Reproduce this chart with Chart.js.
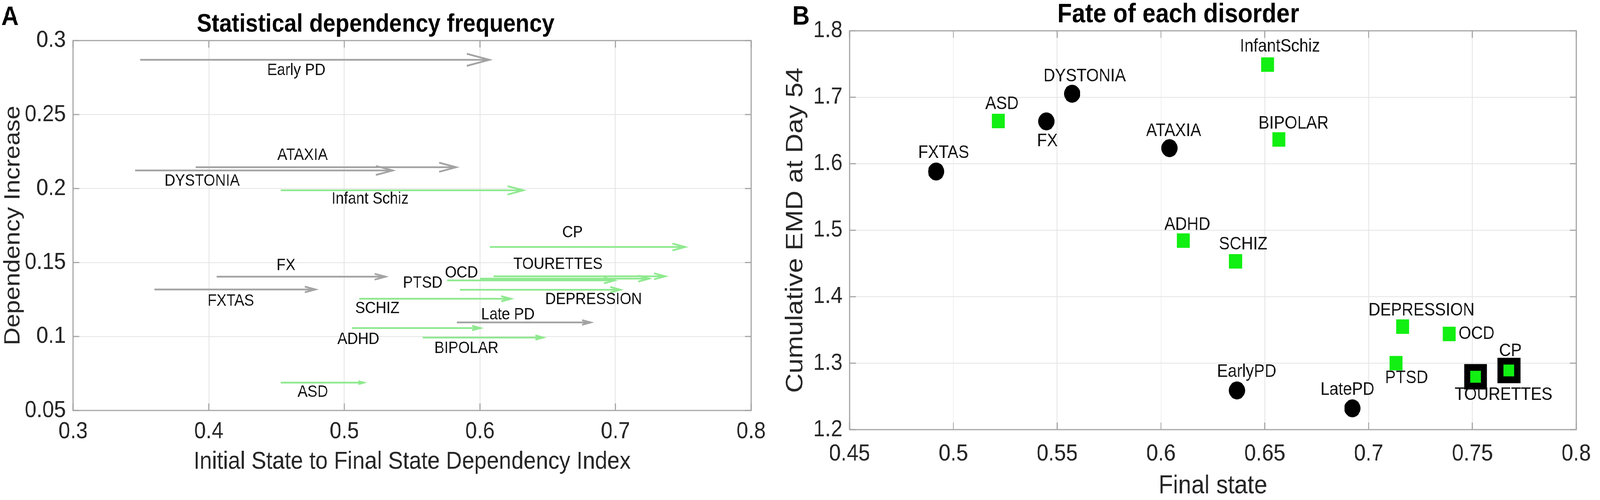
<!DOCTYPE html>
<html><head><meta charset="utf-8">
<script src="https://cdn.jsdelivr.net/npm/chart.js@4.4.1/dist/chart.umd.min.js"></script>
<style>
html,body{margin:0;padding:0;background:#fff;overflow:hidden}
#page{position:absolute;left:0;top:0;width:4550px;height:1279px;transform-origin:0 0;background:#fff}
#wa{position:absolute;left:0;top:0;width:2250px;height:1279px}
#wb{position:absolute;left:2200px;top:0;width:2350px;height:1279px}
canvas{display:block}
</style></head><body>
<div id="page">
<div id="wa"><canvas id="ca" width="2250" height="1279"></canvas></div>
<div id="wb"><canvas id="cb" width="2350" height="1279"></canvas></div>
</div>
<script>
// fit the 4550px-wide figure into the actual viewport
(function () {
  const sx = Math.min(1, (window.innerWidth || 4550) / 4550);
  const sy = Math.min(1, (window.innerHeight || 1279) / 1279);
  document.getElementById('page').style.transform = 'scale(' + sx + ',' + sy + ')';
})();

// ---------- Panel A: Statistical dependency frequency ----------
const arrowNames  = ['Early PD','ATAXIA','DYSTONIA','Infant Schiz','CP','TOURETTES','OCD','PTSD','DEPRESSION','FX','FXTAS','SCHIZ','Late PD','ADHD','BIPOLAR','ASD'];
const arrowGroup  = ['neuro','neuro','neuro','psych','psych','psych','psych','psych','psych','neuro','neuro','psych','neuro','psych','psych','psych'];
const arrowStart  = [0.3495,0.3905,0.3456,0.4532,0.6073,0.6101,0.6001,0.5758,0.5853,0.4057,0.3600,0.5110,0.5831,0.5057,0.5578,0.4532];
const arrowEnd    = [0.6070,0.5825,0.5357,0.6320,0.7514,0.7367,0.7248,0.6994,0.7037,0.5304,0.4787,0.6229,0.6817,0.6004,0.6467,0.5144];
const arrowY      = [0.2870,0.2144,0.2122,0.1988,0.1605,0.1407,0.1391,0.1379,0.1316,0.1404,0.1318,0.1255,0.1095,0.1057,0.0993,0.0688];
const arrowLabelX = [0.4646,0.4692,0.3951,0.5190,0.6683,0.6576,0.5864,0.5578,0.6838,0.4570,0.4163,0.5243,0.6206,0.5103,0.5901,0.4768];
const arrowLabelY = [0.2797,0.2223,0.2051,0.1928,0.1702,0.1487,0.1430,0.1359,0.1249,0.1479,0.1238,0.1188,0.1147,0.0979,0.0918,0.0623];
const xTicksA = [0.3,0.4,0.5,0.6,0.7,0.8];
const xTickLabelsA = ['0.3','0.4','0.5','0.6','0.7','0.8'];
const yTicksA = [0.05,0.1,0.15,0.2,0.25,0.3];
const yTickLabelsA = ['0.05','0.1','0.15','0.2','0.25','0.3'];

// ---------- Panel B: Fate of each disorder ----------
const pointNames    = ['FXTAS','ASD','FX','DYSTONIA','ATAXIA','InfantSchiz','BIPOLAR','ADHD','SCHIZ','DEPRESSION','OCD','PTSD','EarlyPD','LatePD','TOURETTES','CP'];
const pointGroup    = ['neuro','psych','neuro','neuro','neuro','psych','psych','psych','psych','psych','psych','psych','neuro','neuro','psych','psych'];
const finalState    = [0.4917,0.5216,0.5448,0.5572,0.6041,0.6514,0.6568,0.6108,0.6359,0.7164,0.7388,0.7132,0.6366,0.6922,0.7515,0.7676];
const cumulativeEMD = [1.5883,1.6643,1.6638,1.7053,1.6235,1.7492,1.6365,1.4844,1.4532,1.3550,1.3439,1.3000,1.2590,1.2321,1.2795,1.2890];
const highlighted   = ['TOURETTES','CP'];
const pointLabelX   = [0.4953,0.5234,0.5453,0.5632,0.6061,0.6573,0.6639,0.6127,0.6396,0.7255,0.7520,0.7183,0.6413,0.6898,0.7650,0.7683];
const pointLabelY   = [1.6160,1.6897,1.6340,1.7314,1.6494,1.7760,1.6604,1.5079,1.4787,1.3789,1.3439,1.2772,1.2868,1.2600,1.2522,1.3182];
const xTicksB = [0.45,0.5,0.55,0.6,0.65,0.7,0.75,0.8];
const xTickLabelsB = ['0.45','0.5','0.55','0.6','0.65','0.7','0.75','0.8'];
const yTicksB = [1.2,1.3,1.4,1.5,1.6,1.7,1.8];
const yTickLabelsB = ['1.2','1.3','1.4','1.5','1.6','1.7','1.8'];

// ---------- styling ----------
const FONT = "'Liberation Sans', Arial, Helvetica, sans-serif";
Chart.defaults.font.family = FONT;
Chart.defaults.color = '#262626';
const GRID = '#e4e4e4';
const BOX = '#a6a6a6';
const GRAY_ARROW = '#a3a3a3';
const GREEN_ARROW = '#8fe98f';
const GREEN = '#12ef12';

function makeScale(min, max, tickVals, tickLabels, title, titleSize, titlePad, tickPad, fit, isX) {
  return {
    type: 'linear', min: min, max: max,
    afterBuildTicks: s => { s.ticks = tickVals.map(v => ({value: v})); },
    afterFit: s => { if (isX) s.height = fit; else s.width = fit; },
    ticks: {
      font: {size: 60}, color: '#262626', padding: tickPad,
      callback: (v, i) => tickLabels[i]
    },
    grid: {color: GRID, lineWidth: 2, drawTicks: false},
    border: {display: false},
    title: {display: true, text: title, font: {size: titleSize, lineHeight: 1.2}, color: '#262626', padding: titlePad}
  };
}

const boxPlugin = {
  id: 'boxTicks',
  afterDraw(chart, args, opts) {
    const {ctx, chartArea: a, scales} = chart;
    ctx.save();
    ctx.strokeStyle = BOX; ctx.lineWidth = 3;
    ctx.strokeRect(a.left, a.top, a.right - a.left, a.bottom - a.top);
    const L = 18;
    ctx.beginPath();
    scales.x.ticks.forEach(t => {
      const px = scales.x.getPixelForValue(t.value);
      ctx.moveTo(px, a.bottom); ctx.lineTo(px, a.bottom - L);
      ctx.moveTo(px, a.top); ctx.lineTo(px, a.top + L);
    });
    scales.y.ticks.forEach(t => {
      const py = scales.y.getPixelForValue(t.value);
      ctx.moveTo(a.left, py); ctx.lineTo(a.left + L, py);
      ctx.moveTo(a.right, py); ctx.lineTo(a.right - L, py);
    });
    ctx.stroke();
    ctx.fillStyle = '#000';
    ctx.font = 'bold 68px ' + FONT;
    ctx.textBaseline = 'alphabetic'; ctx.textAlign = 'left';
    ctx.fillText(opts.letter, opts.lx, opts.ly);
    ctx.restore();
  }
};

const labelPlugin = {
  id: 'textLabels',
  afterDatasetsDraw(chart, args, opts) {
    const {ctx, scales} = chart;
    ctx.save();
    ctx.fillStyle = '#111';
    ctx.font = opts.size + 'px ' + FONT;
    ctx.textAlign = 'center'; ctx.textBaseline = 'middle';
    opts.names.forEach((n, i) => {
      ctx.fillText(n, scales.x.getPixelForValue(opts.xs[i]), scales.y.getPixelForValue(opts.ys[i]));
    });
    ctx.restore();
  }
};

const arrowHeadPlugin = {
  id: 'arrowHeads',
  afterDatasetsDraw(chart) {
    const ctx = chart.ctx;
    ctx.save();
    chart.data.datasets.forEach((ds, i) => {
      const meta = chart.getDatasetMeta(i);
      if (!meta.data || meta.data.length < 2) return;
      const a = meta.data[0], b = meta.data[1];
      const dx = b.x - a.x, dy = b.y - a.y;
      const len = Math.hypot(dx, dy);
      const ux = dx / len, uy = dy / len;
      const h = 0.065 * len, w = 0.24 * h;
      ctx.strokeStyle = ds.borderColor; ctx.lineWidth = ds.borderWidth;
      ctx.lineJoin = 'miter'; ctx.lineCap = 'butt';
      ctx.beginPath();
      ctx.moveTo(b.x - ux * h - uy * w, b.y - uy * h + ux * w);
      ctx.lineTo(b.x, b.y);
      ctx.lineTo(b.x - ux * h + uy * w, b.y - uy * h - ux * w);
      ctx.stroke();
    });
    ctx.restore();
  }
};

const arrowDatasets = arrowNames.map((n, i) => ({
  label: n,
  data: [{x: arrowStart[i], y: arrowY[i]}, {x: arrowEnd[i], y: arrowY[i]}],
  showLine: true,
  borderColor: arrowGroup[i] === 'neuro' ? GRAY_ARROW : GREEN_ARROW,
  borderWidth: 4.5,
  pointRadius: 0,
  fill: false
}));

new Chart(document.getElementById('ca'), {
  type: 'scatter',
  data: {datasets: arrowDatasets},
  options: {
    responsive: false, animation: false, devicePixelRatio: 1, events: [],
    layout: {padding: {left: 0, right: 114, top: 0, bottom: 0}},
    scales: {
      x: makeScale(0.3, 0.8, xTicksA, xTickLabelsA, 'Initial State to Final State Dependency Index', 63, {top: 0, bottom: 60}, 18, 229, true),
      y: makeScale(0.05, 0.3, yTicksA, yTickLabelsA, 'Dependency Increase', 63, {top: 0, bottom: 0}, 21, 208, false)
    },
    plugins: {
      legend: {display: false}, tooltip: {enabled: false},
      title: {display: true, text: 'Statistical dependency frequency', color: '#000',
        font: {size: 64, weight: 'bold', lineHeight: 1.2}, padding: {top: 25, bottom: 2}},
      boxTicks: {letter: 'A', lx: 4, ly: 64},
      textLabels: {names: arrowNames, xs: arrowLabelX, ys: arrowLabelY, size: 42}
    }
  },
  plugins: [arrowHeadPlugin, labelPlugin, boxPlugin]
});

function pts(filterFn) {
  const out = [];
  pointNames.forEach((n, i) => { if (filterFn(n, i)) out.push({x: finalState[i], y: cumulativeEMD[i]}); });
  return out;
}
const isHi = n => highlighted.includes(n);

new Chart(document.getElementById('cb'), {
  type: 'scatter',
  data: {datasets: [
    {label: 'psych', data: pts((n, i) => pointGroup[i] === 'psych' && !isHi(n)), pointStyle: 'rect', pointRadius: 26.2, backgroundColor: GREEN, borderWidth: 0},
    {label: 'psych highlighted', data: pts((n, i) => isHi(n)), pointStyle: 'rect', pointRadius: 21.5, backgroundColor: GREEN, borderWidth: 0},
    {label: 'neuro', data: pts((n, i) => pointGroup[i] === 'neuro'), pointStyle: 'circle', pointRadius: 23, backgroundColor: '#000', borderWidth: 0},
    {label: 'highlight frame', data: pts((n, i) => isHi(n)), pointStyle: 'rect', pointRadius: 46, backgroundColor: '#000', borderWidth: 0}
  ]},
  options: {
    responsive: false, animation: false, devicePixelRatio: 1, events: [],
    layout: {padding: {left: 0, right: 49, top: 0, bottom: 0}},
    scales: {
      x: makeScale(0.45, 0.8, xTicksB, xTickLabelsB, 'Final state', 67, {top: 0, bottom: -5}, 26, 180, true),
      y: makeScale(1.2, 1.8, yTicksB, yTickLabelsB, 'Cumulative EMD at Day 54', 69, {top: 22, bottom: 0}, 20, 216, false)
    },
    plugins: {
      legend: {display: false}, tooltip: {enabled: false},
      title: {display: true, text: 'Fate of each disorder', color: '#000',
        font: {size: 68, weight: 'bold', lineHeight: 1.1}, padding: {top: 1, bottom: 3}},
      boxTicks: {letter: 'B', lx: 53, ly: 63},
      textLabels: {names: pointNames, xs: pointLabelX, ys: pointLabelY, size: 46}
    }
  },
  plugins: [labelPlugin, boxPlugin]
});
</script>
</body></html>
